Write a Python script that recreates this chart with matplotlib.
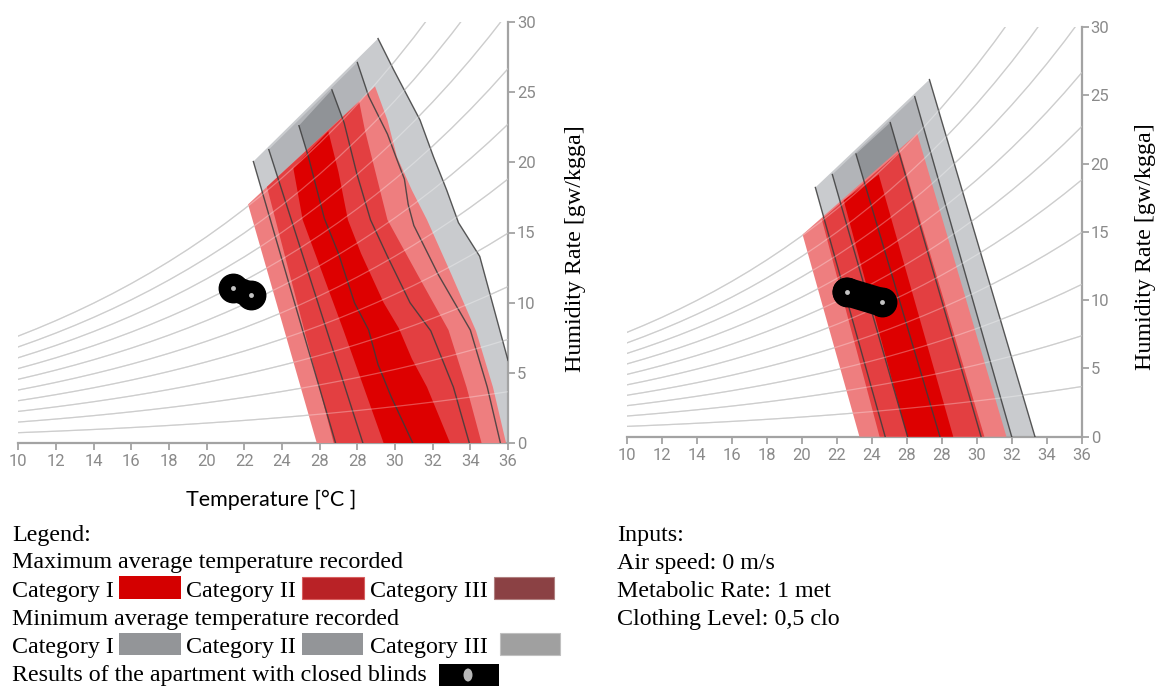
import numpy as np
import matplotlib.pyplot as plt
from matplotlib.patches import Polygon, Rectangle, Ellipse

FIG_W, FIG_H = 1157, 686

# saturation vapour pressure table (kPa) and relative humidity levels of the grid
grid_temps = list(range(10, 37))
sat_pressure_kpa = [1.2282, 1.3130, 1.4028, 1.4981, 1.5990, 1.7058, 1.8188, 1.9384,
                    2.0647, 2.1983, 2.3393, 2.4882, 2.6453, 2.8111, 2.9858, 3.1699,
                    3.3639, 3.5681, 3.7831, 4.0092, 4.2470, 4.4969, 4.7596, 5.0354,
                    5.3251, 5.6290, 5.9479]
rh_levels = [0.1, 0.2, 0.3, 0.4, 0.5, 0.6, 0.7, 0.8, 0.9, 1.0]
atm_kpa = 101.325

x_ticks = [10, 12, 14, 16, 18, 20, 22, 24, 26, 28, 30, 32, 34, 36]
x_tick_labels = ['10', '12', '14', '16', '18', '20', '22', '24', '28', '28', '30', '32', '34', '36']
y_ticks = [0, 5, 10, 15, 20, 25, 30]

# ---- left chart: boundary lines of the minimum-temperature zones (T, W), top to bottom
left_line_a = [(22.48, 20.05), (26.85, 0)]
left_line_b = [(23.3, 20.9), (28.3, 0)]
left_line_c = [(24.9, 22.6), (25.4, 20.4), (26.25, 16.0), (27.0, 13.5), (27.85, 10.0),
               (28.6, 8.06), (29.1, 5.6), (29.8, 3.3), (30.95, 0)]
left_line_d = [(26.65, 25.15), (27.3, 22.8), (27.97, 19.2), (28.7, 15.9), (29.6, 13.3),
               (30.8, 10.0), (31.9, 8.0), (32.5, 6.0), (33.1, 4.0), (33.95, 0)]
left_line_e = [(28.0, 27.1), (28.6, 24.7), (29.6, 22.0), (30.1, 20.2), (30.5, 18.8),
               (30.7, 17.0), (31.0, 15.5), (32.3, 12.0), (34.0, 8.06), (34.9, 4.0), (35.6, 0)]
left_line_f = [(29.1, 28.8), (29.92, 26.6), (31.33, 23.0), (32.04, 20.4), (32.75, 18.0),
               (33.37, 15.7), (34.5, 13.3), (36.0, 5.9)]

# left chart: maximum-temperature zones, left edge and right edge (top to bottom)
left_max3_left = [(22.2, 17.0), (25.85, 0)]
left_max3_right = [(28.94, 25.4), (29.6, 23.0), (30.1, 20.4), (30.9, 18.0), (31.7, 15.9),
                   (33.0, 12.0), (34.3, 8.0), (35.2, 4.0), (35.9, 0)]
left_max2_left = [(23.2, 18.25), (26.75, 0)]
left_max2_right = [(28.1, 24.3), (28.4, 22.3), (28.85, 19.9), (29.6, 15.9), (31.2, 12.0),
                   (32.84, 8.06), (33.8, 4.0), (34.6, 0)]
left_max1_left = [(24.6, 19.6), (25.1, 15.9), (27.26, 8.06), (29.4, 0)]
left_max1_right = [(26.46, 22.2), (27.0, 19.3), (27.5, 15.9), (28.2, 13.5), (29.4, 10.0),
                   (30.2, 8.2), (30.9, 6.0), (31.7, 4.0), (32.93, 0)]
left_results_t = [21.4, 22.36]
left_results_w = [11.05, 10.56]

# ---- right chart
right_line_1 = [(20.78, 18.25), (24.77, 0)]
right_line_2 = [(21.75, 19.2), (26.05, 0)]
right_line_3 = [(23.1, 20.7), (27.9, 0)]
right_line_4 = [(25.06, 23.0), (30.25, 0)]
right_line_5 = [(26.46, 24.9), (32.0, 0)]
right_line_6 = [(27.3, 26.15), (33.33, 0)]

right_max3_left = [(20.05, 14.8), (23.3, 0)]
right_max3_right = [(26.6, 22.2), (31.7, 0)]
right_max2_left = [(21.15, 15.9), (24.45, 0)]
right_max2_right = [(25.6, 20.9), (30.44, 0)]
right_max1_left = [(22.4, 17.3), (26.03, 0)]
right_max1_right = [(24.4, 19.2), (28.66, 0)]
right_results_t = [22.57, 24.57]
right_results_w = [10.61, 9.84]

grey_light, grey_mid, grey_dark = '#c9cbce', '#b2b4b8', '#909397'
red_light, red_mid, red_dark = '#ee7e7f', '#e33f41', '#dd0000'
axis_grey = '#a3a3a3'
label_grey = '#8a8a8a'
line_dark = '#3c3c3c'


def px_rect(x0, y_top, x1, y_bottom):
    return [x0 / FIG_W, 1 - y_bottom / FIG_H, (x1 - x0) / FIG_W, (y_bottom - y_top) / FIG_H]


def zone(ax, left_edge, right_edge, color, z, corner=None):
    pts = list(left_edge)
    if corner:
        pts += corner
    pts += right_edge[::-1]
    ax.add_patch(Polygon(pts, closed=True, facecolor=color, edgecolor='none', zorder=z))


def draw_chart(ax, grey_lines, red_zones, results_t, results_w, blob_lw, outer_corner=None):
    t = np.array(grid_temps, dtype=float)
    pws = np.array(sat_pressure_kpa)
    for rh in rh_levels:
        w = 621.98 * rh * pws / (atm_kpa - rh * pws)
        ax.plot(t, w, color='#b8b8b8', lw=0.9, zorder=1)
        ax.plot(t, w, color='white', lw=0.9, alpha=0.3, zorder=5)

    # minimum temperature zones (grey), outer to inner
    n = len(grey_lines)
    shades = [grey_light, grey_mid, grey_dark]
    for i in range(n // 2):
        corner = outer_corner if i == 0 else None
        zone(ax, grey_lines[i], grey_lines[n - 1 - i], shades[i], 2 + i * 0.1, corner)

    # maximum temperature zones (red), outer to inner
    for (le, re), c, k in zip(red_zones, [red_light, red_mid, red_dark], range(3)):
        zone(ax, le, re, c, 3 + k * 0.1)

    for ln in grey_lines:
        xs, ys = zip(*ln)
        ax.plot(xs, ys, color=line_dark, lw=1.0, alpha=0.85, zorder=4)

    ax.plot(results_t, results_w, color='black', lw=blob_lw, solid_capstyle='round', zorder=6)
    ax.plot(results_t, results_w, 'o', color='black', ms=20.5, zorder=6)
    ax.plot(results_t, results_w, 'o', color='#c4c4c4', ms=3.5, mec='none', zorder=7)

    ax.set_xlim(10, 36)
    ax.set_ylim(0, 30)
    ax.set_facecolor('none')
    ax.spines['top'].set_visible(False)
    ax.spines['left'].set_visible(False)
    for s in ['bottom', 'right']:
        ax.spines[s].set_color(axis_grey)
        ax.spines[s].set_linewidth(1.6)
    ax.yaxis.tick_right()
    ax.set_xticks(x_ticks)
    ax.set_xticklabels(x_tick_labels)
    ax.set_yticks(y_ticks)
    ax.tick_params(axis='both', direction='out', length=5, width=1.3, colors=axis_grey,
                   labelcolor=label_grey, labelsize=12)
    ax.tick_params(axis='x', pad=3)
    ax.tick_params(axis='y', pad=1.5)
    for lab in ax.get_xticklabels() + ax.get_yticklabels():
        lab.set_fontfamily('Roboto')


fig = plt.figure(figsize=(FIG_W / 100, FIG_H / 100), dpi=100)

ax1 = fig.add_axes(px_rect(18.3, 21.7, 508.0, 443.3))
draw_chart(ax1,
           [left_line_a, left_line_b, left_line_c, left_line_d, left_line_e, left_line_f],
           [(left_max3_left, left_max3_right), (left_max2_left, left_max2_right),
            (left_max1_left, left_max1_right)],
           left_results_t, left_results_w, 18.5, outer_corner=[(36.0, 0)])

ax2 = fig.add_axes(px_rect(626.7, 27.0, 1081.7, 436.7))
draw_chart(ax2,
           [right_line_1, right_line_2, right_line_3, right_line_4, right_line_5, right_line_6],
           [(right_max3_left, right_max3_right), (right_max2_left, right_max2_right),
            (right_max1_left, right_max1_right)],
           right_results_t, right_results_w, 20.5)

serif = 'Liberation Serif'


def ftext(x, y, s, **kw):
    kw.setdefault('family', serif)
    kw.setdefault('fontsize', 17.3)
    kw.setdefault('va', 'baseline')
    fig.text(x / FIG_W, 1 - y / FIG_H, s, **kw)


ftext(575, 249, 'Humidity Rate [gw/kgga]', rotation=90, ha='center', va='center')
ftext(1145, 247, 'Humidity Rate [gw/kgga]', rotation=90, ha='center', va='center')
ftext(271, 506, 'Temperature [°C ]', family='Lato', fontsize=15.5, ha='center')

ftext(12, 540.5, 'Legend:')
ftext(12, 568, 'Maximum average temperature recorded')
ftext(12, 596.5, 'Category I')
ftext(186, 596.5, 'Category II')
ftext(370, 596.5, 'Category III')
ftext(12, 625, 'Minimum average temperature recorded')
ftext(12, 653, 'Category I')
ftext(186, 653, 'Category II')
ftext(370, 653, 'Category III')
ftext(12, 681.5, 'Results of the apartment with closed blinds')

ftext(617, 540.5, 'Inputs:')
ftext(617, 568.5, 'Air speed: 0 m/s')
ftext(617, 597, 'Metabolic Rate: 1 met')
ftext(617, 625.5, 'Clothing Level: 0,5 clo')


def swatch(x0, y0, x1, y1, color, edge='none'):
    fig.add_artist(Rectangle((x0 / FIG_W, 1 - y1 / FIG_H), (x1 - x0) / FIG_W, (y1 - y0) / FIG_H,
                             transform=fig.transFigure, facecolor=color, edgecolor=edge, lw=0.8))


swatch(119, 576, 181, 599, '#d40000')
swatch(302, 577, 364, 599, '#b92226', edge='#d86060')
swatch(494, 577, 554, 599, '#8b4144', edge='#b08080')
swatch(119, 633, 181, 655, '#939598')
swatch(302, 633, 363, 655, '#939598')
swatch(500, 633, 560, 655, '#a0a0a0', edge='#c0c0c0')
swatch(439, 664, 499, 686, '#000000')
fig.add_artist(Ellipse((468 / FIG_W, 1 - 675 / FIG_H), 9 / FIG_W, 13 / FIG_H,
                       transform=fig.transFigure, facecolor='#b8b8b8', edgecolor='none'))

fig.savefig('out.png', dpi=100)
